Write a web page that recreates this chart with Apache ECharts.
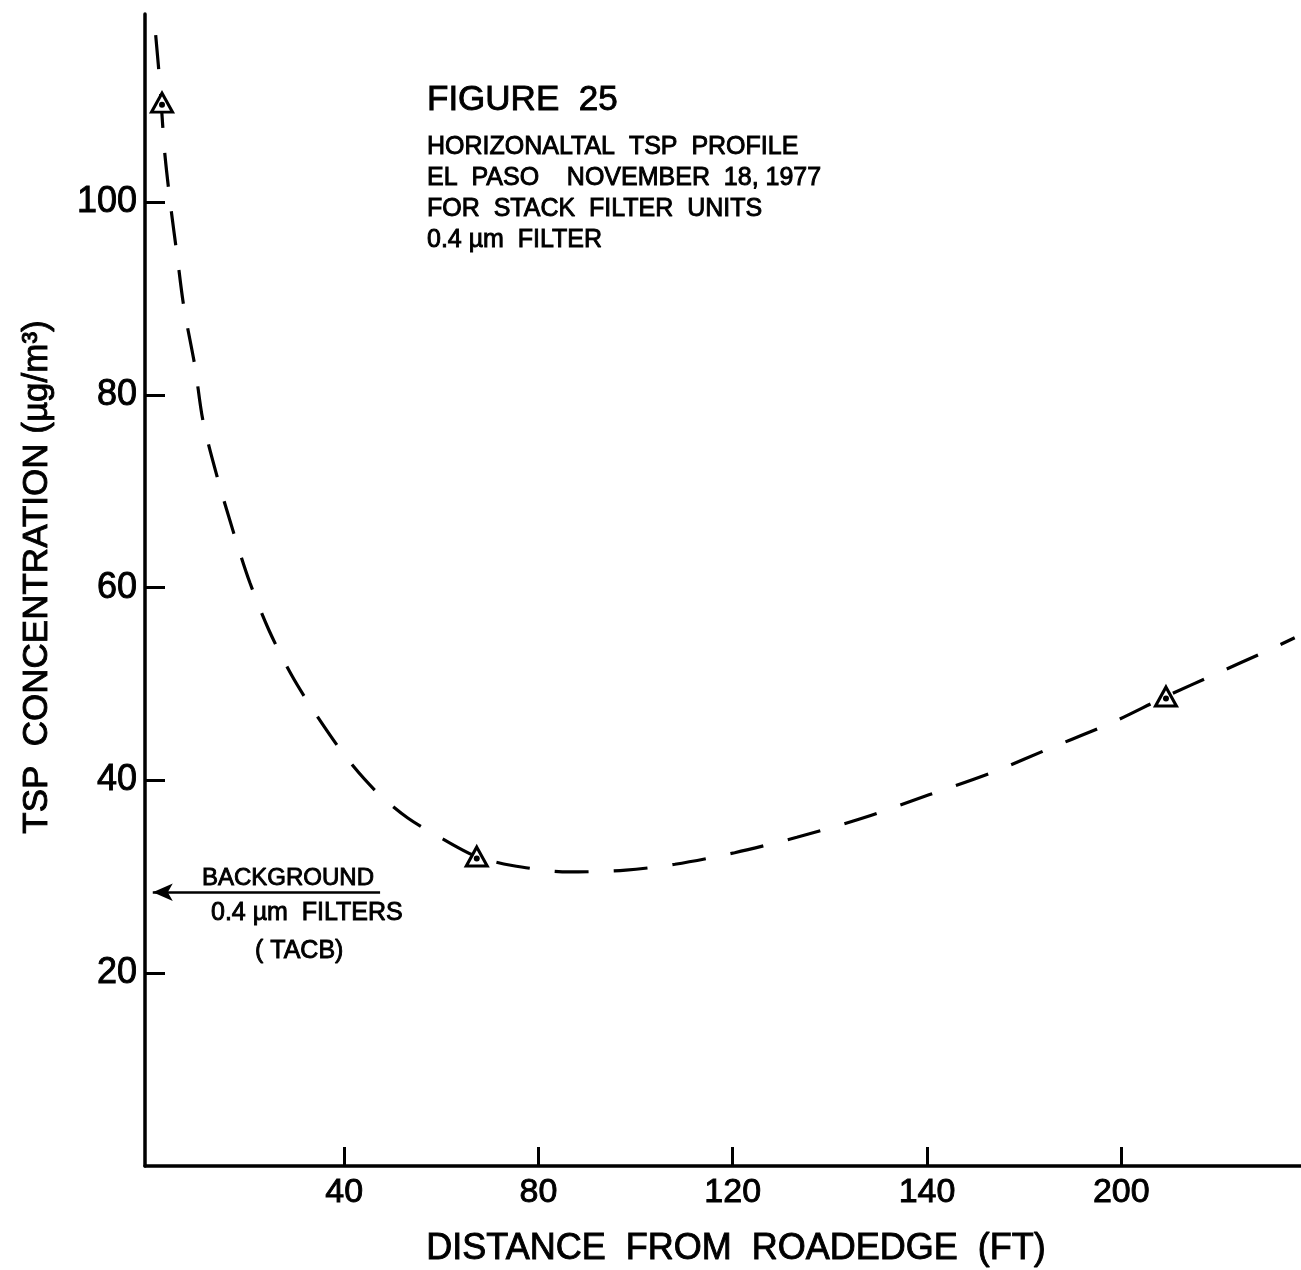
<!DOCTYPE html>
<html>
<head>
<meta charset="utf-8">
<title>Figure 25 - Horizontal TSP Profile</title>
<script src="https://cdn.jsdelivr.net/npm/echarts@6/dist/echarts.min.js"></script>
<style>
  html, body { margin: 0; padding: 0; background: #ffffff; }
  #chart { width: 1301px; height: 1270px; }
</style>
</head>
<body>
<div id="chart"></div>
<script>
// Measured TSP concentrations (ug/m3) at distances from the road edge (ft)
const sampleDistance = [2.5, 67.3, 209.2];
const sampleTsp = [110.3, 32.1, 48.7];

// Hand-fitted profile curve through the samples
const curveDistance = [1.2, 2.1, 2.5, 3.1, 4.3, 5.6, 7.0, 9.3, 10.9, 13.8, 17.3, 20.6, 24.5, 29.2, 34.0, 40.4, 46.5, 53.1, 61.8, 67.3, 74.3, 86.3, 98.0, 108.1, 120.4, 133.2, 146.8, 160.4, 173.8, 186.1, 197.7, 209.2, 219.7, 229.4, 235.7];
const curveTsp = [117.3, 112.1, 109.0, 104.9, 99.5, 94.5, 89.1, 82.9, 77.4, 71.6, 65.6, 60.5, 55.6, 50.9, 47.0, 42.4, 38.9, 36.1, 33.5, 32.1, 31.2, 30.5, 30.7, 31.3, 32.5, 34.1, 36.1, 38.5, 40.9, 43.5, 45.9, 48.7, 51.1, 53.3, 54.8];

// Background level (0.4 um filters, TACB) and where its arrow starts
const backgroundTsp = 28.4;
const backgroundArrowFrom = 47.4;

// Axis ticks and the labels lettered beside them
const xTickValues = [40, 80, 120, 160, 200];
const xTickLabels = ['40', '80', '120', '140', '200'];
const yTickValues = [20, 40, 60, 80, 100];
const yTickLabels = ['20', '40', '60', '80', '100'];

const titleLines = ['HORIZONALTAL  TSP  PROFILE', 'EL  PASO    NOVEMBER  18, 1977', 'FOR  STACK  FILTER  UNITS', '0.4 \u00b5m  FILTER'];

const FONT = '"Liberation Sans", Arial, sans-serif';
const INK = '#000000';

const curveData = curveDistance.map((d, i) => [d, curveTsp[i]]);
const sampleData = sampleDistance.map((d, i) => [d, sampleTsp[i]]);

// Lettering: plain text thickened with a thin outline of the same ink
function lettering(text, size, extra) {
  return Object.assign({
    text: text,
    fill: INK,
    font: size + 'px ' + FONT,
    stroke: INK,
    lineWidth: 0.9,
    verticalAlign: 'middle'
  }, extra || {});
}

const chart = echarts.init(document.getElementById('chart'), null, { renderer: 'canvas' });

const option = {
  backgroundColor: '#ffffff',
  animation: false,
  grid: { left: 145, right: 0, top: 14, bottom: 104, containLabel: false },
  xAxis: {
    type: 'value',
    min: -1,
    max: 237,
    axisLine: { show: true, onZero: false, lineStyle: { color: INK, width: 3.5 } },
    axisTick: { show: true, inside: true, length: 19, customValues: xTickValues, lineStyle: { color: INK, width: 3 } },
    axisLabel: {
      customValues: xTickValues,
      margin: 10,
      color: INK,
      fontFamily: FONT,
      fontSize: 34,
      textBorderColor: INK,
      textBorderWidth: 0.9,
      formatter: v => xTickLabels[xTickValues.indexOf(v)]
    },
    splitLine: { show: false }
  },
  yAxis: {
    type: 'value',
    min: 0,
    max: 119.5,
    axisLine: { show: true, onZero: false, lineStyle: { color: INK, width: 3.5 } },
    axisTick: { show: true, inside: true, length: 20, customValues: yTickValues, lineStyle: { color: INK, width: 3 } },
    axisLabel: {
      customValues: yTickValues,
      margin: 8,
      color: INK,
      fontFamily: FONT,
      fontSize: 36,
      textBorderColor: INK,
      textBorderWidth: 0.9,
      formatter: v => yTickLabels[yTickValues.indexOf(v)]
    },
    splitLine: { show: false }
  },
  series: [
    {
      name: 'profile',
      type: 'line',
      data: curveData,
      showSymbol: false,
      smooth: 0.3,
      lineStyle: { color: INK, width: 3.2, type: [34, 25] },
      z: 2,
      markLine: {
        silent: true,
        symbol: ['none', 'arrow'],
        symbolSize: [13, 20],
        label: { show: false },
        lineStyle: { color: INK, width: 2.5, type: 'solid' },
        data: [[
          { coord: [backgroundArrowFrom, backgroundTsp] },
          { coord: [0.6, backgroundTsp] }
        ]]
      }
    },
    {
      name: 'samples',
      type: 'scatter',
      data: sampleData,
      symbol: 'triangle',
      symbolSize: [21, 19],
      itemStyle: { color: '#ffffff', borderColor: INK, borderWidth: 3, opacity: 1 },
      z: 3
    },
    {
      name: 'sample centres',
      type: 'scatter',
      data: sampleData,
      symbol: 'circle',
      symbolSize: 6,
      symbolOffset: [0, 2],
      itemStyle: { color: INK, opacity: 1 },
      z: 4
    }
  ],
  graphic: [
    { type: 'text', x: 427, y: 100, style: lettering('FIGURE  25', 35) },
    ...titleLines.map((line, i) => ({
      type: 'text', x: 427, y: 147 + i * 31, style: lettering(line, 25)
    })),
    { type: 'text', x: 202, y: 878, style: lettering('BACKGROUND', 24) },
    { type: 'text', x: 211, y: 913, style: lettering('0.4 \u00b5m  FILTERS', 25) },
    { type: 'text', x: 255, y: 951, style: lettering('( TACB)', 25) },
    { type: 'text', x: 736, y: 1249, style: lettering('DISTANCE  FROM  ROADEDGE  (FT)', 36, { align: 'center' }) },
    {
      type: 'text', x: 37, y: 577, rotation: Math.PI / 2,
      style: lettering('TSP  CONCENTRATION (\u00b5g/m\u00b3)', 35, { align: 'center' })
    }
  ]
};

chart.setOption(option);
</script>
</body>
</html>
